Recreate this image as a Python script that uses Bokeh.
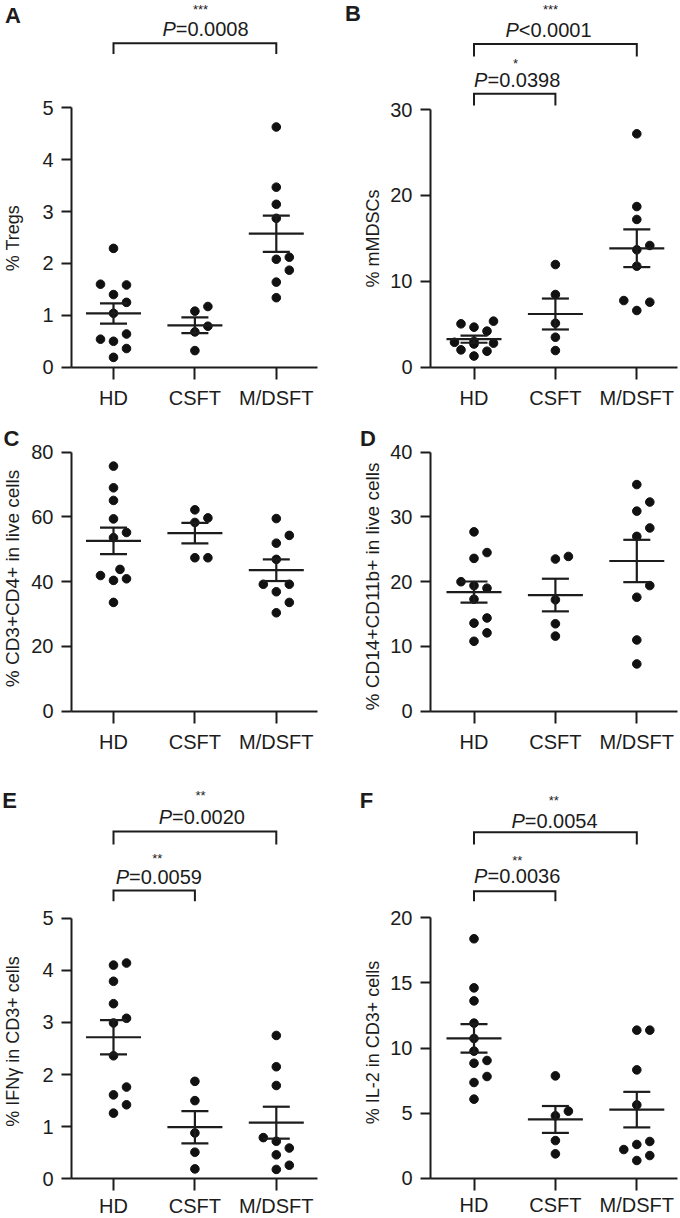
import math
from bokeh.plotting import figure
from bokeh.models import Range1d, FixedTicker, Label
from bokeh.layouts import gridplot
from bokeh.embed import file_html
from bokeh.resources import INLINE

# ---------------- data ----------------
categories = ["HD", "CSFT", "M/DSFT"]

# A  % Tregs
tregs_hd = [2.29, 1.60, 1.585, 1.40, 1.25, 1.04, 0.64, 0.54, 0.50, 0.36, 0.19]
tregs_csft = [1.17, 1.08, 0.79, 0.68, 0.32]
tregs_mdsft = [4.63, 3.47, 3.14, 2.87, 2.12, 2.08, 1.87, 1.64, 1.34]

# B  % mMDSCs
mdsc_hd = [5.36, 5.05, 4.66, 4.2, 3.0, 2.9, 2.8, 2.7, 2.02, 1.86, 1.3]
mdsc_csft = [11.95, 8.46, 5.12, 3.49, 1.94]
mdsc_mdsft = [27.17, 18.7, 17.2, 14.17, 13.67, 11.76, 7.76, 7.57, 6.6]

# C  % CD3+CD4+ in live cells
cd4_hd = [75.7, 69.0, 65.1, 59.4, 55.2, 53.6, 43.8, 41.9, 40.9, 40.4, 33.6]
cd4_csft = [62.2, 59.7, 58.3, 47.4, 47.4]
cd4_mdsft = [59.5, 54.3, 51.9, 46.9, 39.2, 39.2, 36.9, 33.6, 30.4]

# D  % CD14+CD11b+ in live cells
cd14_hd = [27.7, 24.5, 23.6, 20.0, 19.4, 19.0, 17.3, 14.4, 13.6, 12.1, 10.8]
cd14_csft = [23.9, 23.5, 17.2, 13.5, 11.6]
cd14_mdsft = [35.0, 32.3, 30.9, 28.3, 27.0, 19.4, 17.6, 11.0, 7.3]

# E  % IFNγ in CD3+ cells
ifng_hd = [4.14, 4.10, 3.79, 3.36, 3.08, 2.99, 2.36, 1.76, 1.61, 1.42, 1.26]
ifng_csft = [1.87, 1.50, 0.88, 0.51, 0.19]
ifng_mdsft = [2.75, 2.15, 1.79, 0.79, 0.72, 0.59, 0.46, 0.26, 0.18]

# F  % IL-2 in CD3+ cells
il2_hd = [18.39, 14.62, 13.62, 11.91, 10.73, 9.76, 9.04, 8.83, 7.81, 7.35, 6.07]
il2_csft = [7.86, 5.15, 4.79, 2.89, 1.87]
il2_mdsft = [11.37, 11.37, 8.32, 5.63, 2.82, 2.59, 2.20, 1.74, 1.36]

# ---------------- layout / style ----------------
FONT = "Liberation Sans"
INK = "#1c1c1c"
ROW_TOP = [0, 415, 770]
ROW_H = [415, 355, 448]
COL_LEFT = [0, 340]
COL_W = [340, 340]
AXIS_X = [71, 430]
AXIS_END = [316.7, 676.7]
HD_PX = [113, 473.5]
STEP = 81.4

ADV = {"P": .667, "=": .584, "<": .584, ".": .278}


def adv(s, size):
    return sum(ADV.get(ch, .556) for ch in s) * size


def swarm(vals, ppu, step=13.0, T=12.0, dmin=9.5):
    order = sorted(range(len(vals)), key=lambda i: vals[i])
    placed = []
    offs = [0.0] * len(vals)
    cands = [0, 1, -1, 0.5, -0.5, 1.5, -1.5, 2, -2]
    for i in order:
        y = vals[i] * ppu
        chosen = 0.0
        for c in cands:
            x = c * step
            ok = True
            for (px, py) in placed:
                dx = abs(px - x)
                dy = abs(py - y)
                if dx < 1e-6:
                    if dy < T:
                        ok = False
                        break
                elif dx < step - 1e-6:
                    if math.hypot(dx, dy) < dmin:
                        ok = False
                        break
            if ok:
                chosen = x
                break
        placed.append((chosen, y))
        offs[i] = chosen
    return offs


def build(cfg, groups, comps):
    r, c = cfg["row"], cfg["col"]
    fig_top, fig_h = ROW_TOP[r], ROW_H[r]
    fig_left, fig_w = COL_LEFT[c], COL_W[c]
    y0 = cfg["y0"]
    ppu = (y0 - cfg["ytop"]) / cfg["ymax"]

    def xd(px):
        return 1 + (px - HD_PX[c]) / STEP

    def yd(py):
        return (y0 - py) / ppu

    p = figure(width=fig_w, height=fig_h,
               x_range=Range1d(xd(fig_left), xd(fig_left + fig_w)),
               y_range=Range1d(yd(fig_top + fig_h), yd(fig_top)),
               output_backend="svg", toolbar_location=None,
               min_border_left=0, min_border_right=0, min_border_top=0, min_border_bottom=0)
    p.outline_line_color = None
    p.xgrid.visible = False
    p.ygrid.visible = False
    p.background_fill_color = "white"
    p.border_fill_color = "white"

    xa = p.xaxis[0]
    xa.fixed_location = 0
    xa.bounds = (xd(AXIS_X[c]), xd(AXIS_END[c]))
    xa.ticker = FixedTicker(ticks=[1, 2, 3])
    xa.major_label_overrides = {1: categories[0], 2: categories[1], 3: categories[2]}
    ya = p.yaxis[0]
    ya.fixed_location = xd(AXIS_X[c])
    ya.ticker = FixedTicker(ticks=[k * cfg["ystep"] for k in range(int(cfg["ymax"] / cfg["ystep"]) + 1)])
    ya.bounds = (0, cfg["ymax"])
    for ax, tout in ((xa, 12), (ya, 10)):
        ax.axis_line_width = 2
        ax.axis_line_color = INK
        ax.major_tick_line_width = 2
        ax.major_tick_line_color = INK
        ax.major_tick_out = tout
        ax.major_tick_in = 0
        ax.minor_tick_out = 0
        ax.minor_tick_in = 0
        ax.major_label_text_font = FONT
        ax.major_label_text_font_size = "20px"
        ax.major_label_text_color = INK
        ax.major_label_standoff = 8
    xa.major_label_standoff = int(cfg.get("xstandoff", 8))

    def lab(px, py, text, size, style="normal", align="center", angle=0.0):
        p.add_layout(Label(x=xd(px), y=yd(py), text=text,
                           text_font=FONT, text_font_size=f"{size}px", text_font_style=style,
                           text_color=INK, text_align=align, text_baseline="middle", angle=angle))

    # points, mean and SEM
    for gi, vals in enumerate(groups):
        cx = gi + 1
        offs = swarm(vals, ppu)
        p.scatter(x=[cx + o / STEP for o in offs], y=vals, size=8.6,
                  fill_color="#111111", line_color="#111111")
        n = len(vals)
        m = sum(vals) / n
        sd = math.sqrt(sum((v - m) ** 2 for v in vals) / (n - 1))
        se = sd / math.sqrt(n)
        hw, cw = 27.5 / STEP, 13.5 / STEP
        p.segment(x0=[cx - hw, cx - cw, cx - cw, cx], y0=[m, m + se, m - se, m - se],
                  x1=[cx + hw, cx + cw, cx + cw, cx], y1=[m, m + se, m - se, m + se],
                  line_width=2.2, line_color=INK)

    # comparison brackets
    for (g1, g2, stars, pval, top_ref, leg_ref, star_xy, p_xy) in comps:
        yt, yl = yd(top_ref), yd(leg_ref)
        p.line(x=[g1, g1, g2, g2], y=[yl, yt, yt, yl], line_width=2, line_color=INK,
               line_join="miter")
        lab(star_xy[0], star_xy[1] + 3, stars, 13)
        size = 20
        total = adv("P" + pval, size)
        split = p_xy[0] - total / 2 + adv("P", size)
        lab(split, p_xy[1], "P", size, style="italic", align="right")
        lab(split, p_xy[1], pval, size, align="left")

    # y-axis title and panel letter
    lab(cfg["ylab_xy"][0], cfg["ylab_xy"][1], cfg["ylabel"], cfg["ylab_size"], angle=math.pi / 2)
    lab(cfg["letter_xy"][0], cfg["letter_xy"][1], cfg["letter"], 22, style="bold")
    return p


pA = build(dict(row=0, col=0, y0=366.7, ytop=107.3, ymax=5, ystep=1, ylabel="% Tregs", ylab_size=18,
                ylab_xy=(12, 237.5), letter="A", letter_xy=(12.5, 14.7)),
           [tregs_hd, tregs_csft, tregs_mdsft],
           [(1, 3, "***", "=0.0008", 42.7, 53.5, (200, 5.5), (205, 28.3))])
pB = build(dict(row=0, col=1, y0=366.7, ytop=109, ymax=30, ystep=10, ylabel="% mMDSCs", ylab_size=18,
                ylab_xy=(372, 238), letter="B", letter_xy=(352.5, 13)),
           [mdsc_hd, mdsc_csft, mdsc_mdsft],
           [(1, 3, "***", "<0.0001", 43.5, 56, (550, 5.5), (548, 29)),
            (1, 2, "*", "=0.0398", 93.3, 105, (515, 60), (516.7, 79.5))])
pC = build(dict(row=1, col=0, y0=710.7, ytop=451.7, ymax=80, ystep=20,
                ylabel="% CD3+CD4+ in live cells", ylab_size=19,
                ylab_xy=(11.5, 578), letter="C", letter_xy=(11, 438)),
           [cd4_hd, cd4_csft, cd4_mdsft], [])
pD = build(dict(row=1, col=1, y0=710.7, ytop=451.7, ymax=40, ystep=10,
                ylabel="% CD14+CD11b+ in live cells", ylab_size=19,
                ylab_xy=(372, 586), letter="D", letter_xy=(367.5, 438)),
           [cd14_hd, cd14_csft, cd14_mdsft], [])
pE = build(dict(row=2, col=0, y0=1178.3, ytop=917.7, ymax=5, ystep=1, xstandoff=4,
                ylabel="% IFNγ in CD3+ cells", ylab_size=18,
                ylab_xy=(12, 1041), letter="E", letter_xy=(9, 800)),
           [ifng_hd, ifng_csft, ifng_mdsft],
           [(1, 3, "**", "=0.0020", 831, 844, (200, 791.7), (201.3, 816)),
            (1, 2, "**", "=0.0059", 890, 900.7, (156.7, 855), (158.3, 876.7))])
pF = build(dict(row=2, col=1, y0=1177.7, ytop=917.3, ymax=20, ystep=5, xstandoff=4,
                ylabel="% IL-2 in CD3+ cells", ylab_size=18,
                ylab_xy=(372, 1042), letter="F", letter_xy=(366, 799.5)),
           [il2_hd, il2_csft, il2_mdsft],
           [(1, 3, "**", "=0.0054", 831.7, 844, (553.3, 796.7), (554, 820)),
            (1, 2, "**", "=0.0036", 890.7, 900.7, (516.7, 856.7), (516.7, 875))])

grid = gridplot([[pA, pB], [pC, pD], [pE, pF]], toolbar_location=None)
open("out.html", "w").write(file_html(grid, INLINE))
